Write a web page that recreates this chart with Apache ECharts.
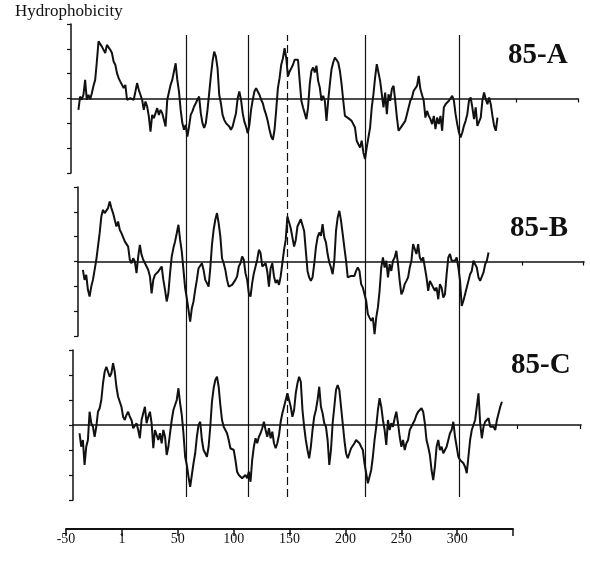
<!DOCTYPE html>
<html>
<head>
<meta charset="utf-8">
<title>Hydrophobicity 85-A / 85-B / 85-C</title>
<script src="https://cdn.jsdelivr.net/npm/echarts@6/dist/echarts.min.js"></script>
<style>
html, body { margin: 0; padding: 0; background: #fff; }
#main { width: 590px; height: 561px; }
</style>
</head>
<body>
<div id="main"></div>
<script>
// residue step between read-off points, and first residue of each profile
const step = 1.5
const startA = -39
const startB = -35
const startC = -38

// hydrophobicity profiles
const hydroA = [-0.46, 0.08, -0.05, 0.15, 0.75, -0.05, 0.15, -0.03, 0.21, 0.51,
  0.75, 1.49, 2.30, 2.36, 2.09, 2.03, 1.83, 2.16, 2.23, 1.96,
  1.83, 1.49, 1.36, 1.02, 0.82, 0.68, 0.62, 0.42, 0.55, -0.05,
  -0.12, 0.01, 0.08, -0.05, 0.28, 0.62, 0.35, 0.15, -0.05, -0.46,
  -0.12, -0.32, -0.72, -1.33, -0.66, -0.79, -0.59, -0.39, -0.66, -0.46,
  -0.59, -0.86, -1.13, -0.05, 0.01, 0.55, 0.75, 0.82, 1.42, 0.75,
  0.28, -0.46, -0.99, -1.26, -1.06, -1.53, -1.13, -0.66, -0.52, -0.32,
  -0.19, -0.05, 0.08, -0.59, -0.99, -1.19, -0.99, -0.46, 0.21, 0.89,
  1.49, 1.89, 1.69, 1.22, 0.15, -0.19, -0.66, -0.86, -0.99, -1.06,
  -1.13, -1.26, -1.13, -0.86, -0.59, 0.01, 0.28, -0.05, -0.59, -0.93,
  -1.13, -1.40, -1.06, -0.46, -0.05, 0.28, 0.42, 0.28, 0.15, -0.05,
  -0.19, -0.46, -0.66, -0.93, -1.26, -1.53, -1.66, -1.26, -0.46, 0.42,
  0.82, 1.36, 1.62, 2.03, 1.62, 0.89, 1.09, 1.22, 1.36, 1.56,
  1.62, 1.56,
  0.71, -0.09, -0.36, -0.30, -0.83, -0.36, 0.58, 1.11, 1.25, 1.05,
  1.32, 0.71, 0.44, -0.09, 0.11, -0.09, -0.90, -0.09, 0.58, 1.18,
  1.45, 1.65, 1.72, 1.45, 1.11, 0.58, -0.09, -0.70, -0.77, -0.79,
  -0.83, -0.90, -0.97, -1.17, -1.70, -1.84, -1.97, -1.70, -2.17, -2.44,
  -1.97, -1.57, -1.17, -0.36, 0.17, 0.85, 1.38, 1.45, 0.71, 0.17,
  -0.36, 0.24, -0.63, 0.17, -0.09, 0.38, 0.51, -0.09, -0.77, -1.30,
  -1.37, -1.10, -1.17, -0.90, -0.63, -0.36, -0.09, 0.04, 0.31, 0.31,
  0.51, 0.91, 0.38, 0.31, -0.09, -0.77, -0.50, -0.70, -0.83, -1.03,
  -0.70, -1.23, -0.77, -1.03, -0.70, -1.30, -0.36, -0.23, -0.16, -0.09,
  -0.03, 0.11, -0.09, -0.63, -1.03, -1.37, -1.57, -1.37, -1.10, -0.90,
  -0.63, -0.09, 0.04, -0.36, -0.83, -0.36, -1.10, -1.17, -0.77, -0.09,
  0.24, -0.03, -0.23, 0.04, -0.23, -0.70, -1.10, -1.30, -0.77]

const hydroB = [-0.34, -0.74, -0.54, -1.14, -1.41, -1.01, -0.74, -0.34, 0.07, 0.13,
  1.14, 1.81, 2.08, 1.95, 2.01, 2.15, 2.42, 2.15, 1.95, 1.68,
  1.41, 1.61, 1.28, 1.14, 1.07, 0.81, 0.87, 0.60, 0.07, -0.07,
  0.13, 0.00, -0.47, 0.20, 0.67, 0.27, 0.07, 0.00, -0.20, -0.34,
  -0.60, -1.28, -0.74, -0.54, -0.60, -0.40, -0.47, -0.20, -0.74, -1.14,
  -1.61, -1.28, -0.47, 0.20, 0.54, 0.81, 1.14, 1.48, 0.87, 0.40,
  -0.34, -1.07, -1.48, -1.95, -2.42, -1.88, -1.61, -1.14, -0.74, -0.27,
  -0.34, -0.07, -0.34, -0.74, -0.87, -1.01, -0.27, 0.67, 1.28, 1.68,
  1.95, 1.54, 1.01, 0.13, -0.07, -0.34, -0.74, -1.01, -0.98, -0.94,
  -0.87, -0.74, -0.60, -0.20, -0.07, 0.20, 0.07, -0.47, -0.74, -1.28,
  -1.41, -0.87, -0.47, -0.20, 0.07, 0.47, 0.34, -0.20, -0.27, -0.07,
  -0.40, -1.01, -0.27, -0.07, -0.60, -0.87, -0.74, -0.94, -0.60, -0.07,
  0.47, 0.87, 1.81, 1.74, 1.34, 1.41, 0.60, 0.87, 1.41,
  1.44, 1.70, 1.64, 1.23, 0.43, -0.38, -0.64, -0.78, -0.64, -0.11,
  0.56, 0.97, 1.17, 1.03, 1.50, 0.97, 0.77, 0.30, -0.04, -0.24,
  -0.51, 0.03, 1.23, 1.77, 2.04, 1.64, 1.10, 0.56, 0.03, -0.64,
  -0.64, -0.58, -0.51, -0.58, -0.38, -0.24, -0.38, -0.91, -1.05, -1.32,
  -1.58, -2.12, -2.26, -2.39, -2.26, -2.93, -2.26, -1.85, -1.18, -0.24,
  0.16, -0.24, 0.03, -0.64, -0.11, -0.38, 0.03, 0.16, 0.43, -0.11,
  -0.78, -1.32, -1.18, -0.91, -0.78, -0.64, -0.24, 0.03, 0.70, 0.70,
  0.30, 0.70, 0.16, 0.03, 0.16, -0.24, -0.64, -1.18, -0.78, -0.91,
  -1.05, -1.18, -1.05, -1.52, -0.91, -1.05, -1.45, -1.32, -0.51, 0.16,
  0.30, 0.03, 0.09, 0.03, 0.16, -0.24, -0.78, -1.79, -1.58, -1.32,
  -1.05, -0.78, -0.51, -0.38, 0.03, -0.11, -0.24, -0.64, -0.78, -0.78,
  -0.44, -0.11, 0.03, 0.36]

const hydroC = [-0.33, -0.87, -0.60, -1.60, -0.87, -0.60, 0.53, 0.07, -0.07, -0.47,
  -0.07, 0.53, 0.67, 1.00, 1.67, 2.13, 2.33, 2.13, 1.93, 2.07,
  2.47, 2.13, 1.53, 1.13, 0.93, 0.73, 0.33, 0.20, 0.40, 0.53,
  0.33, 0.20, -0.13, -0.07, 0.07, -0.20, -0.53, 0.20, 0.47, 0.73,
  0.07, 0.33, 0.53, 0.07, -0.93, -0.20, -0.40, -0.60, -0.33, -0.73,
  -0.20, -0.47, -1.20, -0.87, -0.33, 0.20, 0.60, 0.67, 1.00, 1.47,
  0.87, 0.40, -0.33, -1.27, -1.60, -2.07, -2.47, -2.00, -1.53, -1.13,
  -0.47, 0.00, 0.13, -0.60, -1.00, -1.13, -1.27, -0.87, -0.07, 0.93,
  1.47, 1.80, 1.93, 1.53, 0.80, 0.20, -0.07, -0.20, -0.33, -0.60,
  -0.93, -0.87, -1.00, -1.40, -1.87, -2.00, -2.07, -2.13, -2.20, -2.00,
  -2.13, -1.87, -2.27, -1.40, -0.87, -0.53, -0.73, -0.47, -0.33, -0.13,
  0.13, -0.20, -0.47, -0.13, -0.53, -0.27, -0.73, -0.93, -0.73, -0.40,
  0.13, 0.47, 0.73, 1.00, 1.27, 1.33, 0.73, 0.33, 0.60, 1.27,
  1.67, 1.93,
  1.73, 0.60, -0.07, -0.60, -1.00, -1.33, -0.87, -0.20, 0.33, 0.60,
  1.00, 1.53, 0.73, 0.47, 0.07, -0.07, -0.60, -1.60, -1.00, 0.07,
  0.73, 1.40, 1.60, 1.40, 0.73, 0.07, -0.60, -1.13, -1.33, -1.27,
  -0.93, -0.87, -0.73, -0.60, -0.53, -0.73, -0.87, -1.00, -1.53, -1.93,
  -2.33, -2.07, -1.80, -1.27, -0.60, -0.07, 0.60, 1.07, 0.73, 0.20,
  -0.20, -0.80, 0.20, -0.20, 0.07, -0.07, 0.27, 0.53, 0.07, -0.47,
  -0.87, -0.60, -1.00, -0.73, -0.60, -0.20, -0.27, 0.07, 0.20, 0.40,
  0.53, 0.60, 0.67, 0.53, 0.07, -0.60, -0.87, -1.20, -1.80, -2.20,
  -1.67, -0.87, -0.60, -1.00, -0.87, -1.13, -1.00, -0.87, -0.60, -0.33,
  -0.20, 0.13, -0.47, -0.87, -1.27, -1.40, -1.33, -1.53, -1.67, -1.93,
  -1.27, -0.60, -0.20, -0.13, 0.20, 0.73, 1.27, 0.07, -0.53, -0.07,
  0.13, 0.07, 0.27, -0.07, 0.00, -0.07, -0.20, 0.20, 0.27, 0.73,
  0.93]

// residue positions of the vertical marker lines
const boundaries = [58, 113, 218, 302]
const dashedBoundary = [148]

// small ticks on each zero line (residues)
const zeroTicksA = [353, 408]
const zeroTicksB = [358, 413]
const zeroTicksC = [354, 410.5]

// bottom residue axis
const residueTicks = [-50, 0, 50, 100, 150, 200, 250, 300, 350]
const tickLabels = ['-50', '1', '50', '100', '150', '200', '250', '300', '']

const INK = '#111'
const SERIF = '"Liberation Serif", "Times New Roman", serif'
// pixel of residue 0 and pixels per residue, shared by every panel
const X0 = 122
const PX = 1.1175

function toPairs (values, start) {
  return values.map(function (v, k) { return [start + step * k, v] })
}

const panels = [
  { name: '85-A', values: hydroA, start: startA, ticks: zeroTicksA, left: 71, right: 578, top: 24, height: 149, labelLeft: 508, labelTop: 41 },
  { name: '85-B', values: hydroB, start: startB, ticks: zeroTicksB, left: 78, right: 584, top: 187, height: 149, labelLeft: 510, labelTop: 214 },
  { name: '85-C', values: hydroC, start: startC, ticks: zeroTicksC, left: 73, right: 581, top: 350, height: 150, labelLeft: 511, labelTop: 351 }
]

const grid = []
const xAxis = []
const yAxis = []
const series = []
const title = [{
  text: 'Hydrophobicity', left: 15, top: 3, padding: 0,
  textStyle: { fontFamily: SERIF, fontSize: 17, fontWeight: 'normal', color: INK }
}]

panels.forEach(function (p, i) {
  grid.push({ left: p.left, top: p.top, width: p.right - p.left, height: p.height })
  xAxis.push({
    type: 'value', gridIndex: i,
    min: (p.left - X0) / PX, max: (p.right - X0) / PX,
    axisLine: { onZero: true, lineStyle: { color: INK, width: 1.6 } },
    axisTick: { show: true, length: 4, customValues: p.ticks, lineStyle: { color: INK, width: 1.2 } },
    axisLabel: { show: false },
    splitLine: { show: false }
  })
  yAxis.push({
    type: 'value', gridIndex: i, min: -3, max: 3, interval: 1,
    axisLine: { show: true, onZero: false, lineStyle: { color: INK, width: 1.5 } },
    axisTick: { show: true, length: 4, lineStyle: { color: INK, width: 1.2 } },
    axisLabel: { show: false },
    splitLine: { show: false }
  })
  series.push({
    type: 'line', xAxisIndex: i, yAxisIndex: i,
    data: toPairs(p.values, p.start),
    showSymbol: false, symbol: 'none',
    lineStyle: { color: INK, width: 2 },
    z: 3
  })
  title.push({
    text: p.name, left: p.labelLeft, top: p.labelTop, padding: 0,
    textStyle: { fontFamily: SERIF, fontSize: 29, fontWeight: 'bold', color: INK }
  })
})

// bottom residue axis
grid.push({ left: 66, right: 77, top: 500, bottom: 32 })
xAxis.push({
  type: 'value', gridIndex: 3, min: -50, max: 350, interval: 50,
  axisLine: { lineStyle: { color: INK, width: 1.8 } },
  axisTick: { length: 7, lineStyle: { color: INK, width: 1.5 } },
  axisLabel: {
    margin: 3, color: INK, fontFamily: SERIF, fontSize: 14,
    formatter: function (v) { return tickLabels[residueTicks.indexOf(v)] }
  },
  splitLine: { show: false }
})
yAxis.push({ type: 'value', gridIndex: 3, show: false })

// overlay grid for the vertical marker lines
grid.push({ left: 66, right: 77, top: 35, bottom: 64 })
xAxis.push({ type: 'value', gridIndex: 4, min: -50, max: 350, show: false })
yAxis.push({ type: 'value', gridIndex: 4, min: 0, max: 1, show: false })
series.push({
  type: 'line', xAxisIndex: 4, yAxisIndex: 4, data: [],
  markLine: {
    silent: true, symbol: 'none', label: { show: false },
    lineStyle: { color: INK, width: 1.2, type: 'solid' },
    data: boundaries.map(function (b) { return { xAxis: b } })
  }
})
series.push({
  type: 'line', xAxisIndex: 4, yAxisIndex: 4, data: [],
  markLine: {
    silent: true, symbol: 'none', label: { show: false },
    lineStyle: { color: INK, width: 1.2, type: [8, 4] },
    data: dashedBoundary.map(function (b) { return { xAxis: b } })
  }
})

const chart = echarts.init(document.getElementById('main'))
chart.setOption({
  animation: false,
  backgroundColor: '#fff',
  title: title,
  grid: grid,
  xAxis: xAxis,
  yAxis: yAxis,
  series: series
})
</script>
</body>
</html>
